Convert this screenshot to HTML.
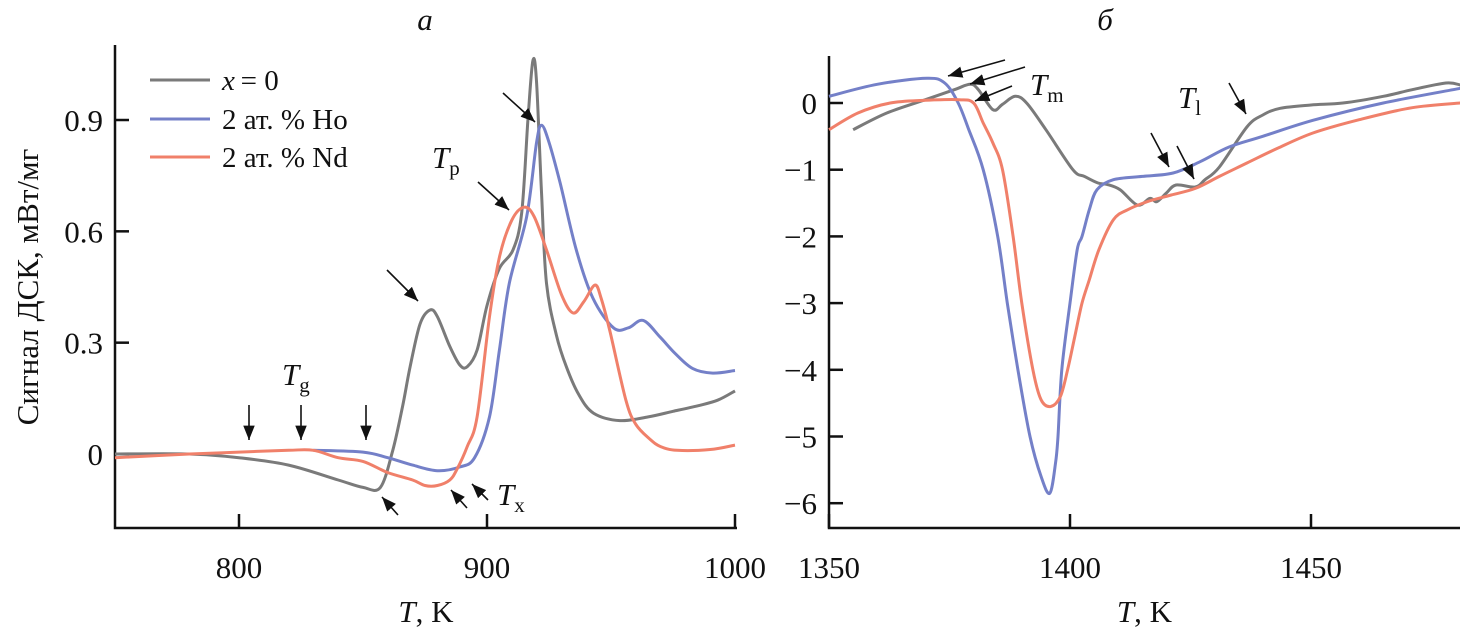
<!DOCTYPE html>
<html><head><meta charset="utf-8"><style>
body{margin:0;background:#fff}
text,tspan{font-family:"Liberation Serif","DejaVu Serif",serif !important;fill:#111}
</style></head><body>
<svg id="chart" width="1460" height="635" viewBox="0 0 1460 635" xmlns="http://www.w3.org/2000/svg" font-family="Liberation Serif, serif">
<defs><marker id="ah" viewBox="0 0 10 10" refX="10" refY="5" markerWidth="9" markerHeight="9" orient="auto"><path d="M0,1 L10,5 L0,9 z" fill="#111"/></marker></defs>
<g id="gA"></g>
<g id="gB"></g>
</svg>
<script>
// Panel a data
const aGrayT=[750,780,800,820,840,850,857,862,866,869,873,877,880,885,889,892,896,900,905,910.5,914,916.5,918.5,920,922,924,928,932,937,943,953.6,965,975,985,993,1000];
const aGrayV=[0,0,-0.01,-0.03,-0.07,-0.09,-0.09,0.01,0.13,0.235,0.35,0.388,0.37,0.29,0.24,0.235,0.28,0.4,0.5,0.55,0.65,0.9,1.06,1.0,0.7,0.46,0.32,0.235,0.16,0.11,0.09,0.1,0.115,0.13,0.145,0.17];
const aHoT=[830,850,860,870,880,889,895,901,905,909,916,920,922,925,929.5,936,942.7,951,957,963,969.8,976,983,991,1000];
const aHoV=[0.01,0.005,-0.01,-0.03,-0.045,-0.035,-0.01,0.1,0.28,0.46,0.64,0.84,0.886,0.84,0.73,0.55,0.42,0.34,0.34,0.36,0.315,0.27,0.23,0.218,0.225];
const aNdT=[750,780,800,820,830,840,850,860,870,875,880,885,888,892,896,901,905,910,915,919,924,930,934.7,939,943.5,946,949.6,956,960,965.7,970,976.6,990,1000];
const aNdV=[-0.01,0,0.005,0.01,0.01,-0.01,-0.02,-0.05,-0.07,-0.085,-0.085,-0.07,-0.04,0.02,0.1,0.37,0.53,0.63,0.665,0.64,0.55,0.43,0.38,0.41,0.455,0.42,0.33,0.145,0.08,0.04,0.02,0.01,0.012,0.024];
const aXTicks=[800,900,1000];
const aYTicks=[0,0.3,0.6,0.9];
const aYLabels=["0","0.3","0.6","0.9"];
// Panel b data
const bGrayT=[1355,1362,1370,1376,1379.3,1381,1384,1386,1388.6,1391,1395,1400.6,1403,1405.8,1407.7,1410.4,1414,1416.6,1418,1420,1422,1426,1428,1431,1436.7,1440,1443.6,1450,1456.6,1465,1471,1478,1481];
const bGrayV=[-0.4,-0.15,0.05,0.2,0.28,0.2,-0.1,-0.02,0.1,0.0,-0.4,-1.0,-1.1,-1.2,-1.22,-1.3,-1.53,-1.43,-1.48,-1.35,-1.23,-1.26,-1.15,-0.96,-0.36,-0.18,-0.08,-0.03,0,0.1,0.2,0.3,0.27];
const bHoT=[1350,1360,1370.3,1374,1376.8,1379,1382,1385,1387,1389.2,1391.7,1394,1395.8,1397,1397.5,1398.3,1400,1401.5,1402.5,1404,1405.6,1409,1415,1421.4,1427,1433,1440,1450.4,1465,1481];
const bHoV=[0.1,0.28,0.37,0.3,0.0,-0.4,-1.0,-2.0,-3.0,-4.0,-5.0,-5.6,-5.85,-5.4,-5.0,-4.0,-3.0,-2.2,-2.0,-1.6,-1.3,-1.15,-1.1,-1.05,-0.88,-0.66,-0.5,-0.26,0.0,0.22];
const bNdT=[1350,1356,1362.7,1370,1377,1380,1382,1384,1386,1388.2,1390,1392.3,1394,1396,1398,1399.5,1401,1402.5,1404,1406,1409,1412,1416,1421,1426,1431,1436.7,1443,1450.4,1460,1471,1481];
const bNdV=[-0.4,-0.15,0.0,0.04,0.05,0.0,-0.3,-0.6,-1.0,-2.0,-3.0,-4.0,-4.45,-4.55,-4.4,-4.0,-3.5,-3.0,-2.65,-2.2,-1.75,-1.6,-1.48,-1.38,-1.28,-1.1,-0.9,-0.68,-0.45,-0.25,-0.07,0];
const bXTicks=[1350,1400,1450];
const bYTicks=[0,-1,-2,-3,-4,-5,-6];
const bYLabels=["0","\u22121","\u22122","\u22123","\u22124","\u22125","\u22126"];

const NS="http://www.w3.org/2000/svg";
const GRAY="#7a7a7a",BLUE="#7480c8",RED="#f0806a";
function mk(p,tag,at,txt){const e=document.createElementNS(NS,tag);for(const k in at)e.setAttribute(k,at[k]);if(tag==='text')e.setAttribute('font-family','Liberation Serif, serif');if(txt!==undefined)e.textContent=txt;p.appendChild(e);return e;}
const ax={x:v=>115+(v-750)*2.48,y:v=>454-v*371.1};
const bx={x:v=>829+(v-1350)*4.82,y:v=>103-v*66.7};
function line(g,s,T,V,c,n){
 const P=T.map((t,i)=>[s.x(t),s.y(V[i])]);
 let d='M'+P[0][0].toFixed(1)+','+P[0][1].toFixed(1);
 for(let i=0;i<P.length-1;i++){const p0=P[Math.max(0,i-1)],p1=P[i],p2=P[i+1],p3=P[Math.min(P.length-1,i+2)];
  const c1=[p1[0]+(p2[0]-p0[0])/6,p1[1]+(p2[1]-p0[1])/6],c2=[p2[0]-(p3[0]-p1[0])/6,p2[1]-(p3[1]-p1[1])/6];
  d+=` C${c1[0].toFixed(1)},${c1[1].toFixed(1)} ${c2[0].toFixed(1)},${c2[1].toFixed(1)} ${p2[0].toFixed(1)},${p2[1].toFixed(1)}`;}
 const e=mk(g,'path',{d:d,fill:'none',stroke:c,'stroke-width':3,'stroke-linejoin':'round'});
 
 }
function axes(g,s,x0,x1,yTop,xT,yT,yL,pfx){
 let e=mk(g,'path',{d:`M${x0},${yTop} L${x0},528 L${x1},528`,fill:'none',stroke:'#111','stroke-width':2.5});
 
 
 xT.forEach(v=>{const x=s.x(v);mk(g,'line',{x1:x,x2:x,y1:528,y2:514,stroke:'#111','stroke-width':2.5});
  const t=mk(g,'text',{x:x,y:578,'font-size':31,'text-anchor':'middle'},v);
  
  });
 yT.forEach((v,i)=>{const y=s.y(v);mk(g,'line',{x1:x0,x2:x0+14,y1:y,y2:y,stroke:'#111','stroke-width':2.5});
  const t=mk(g,'text',{x:x0-12,y:y+11,'font-size':31,'text-anchor':'end'},yL[i]);
  
  });
 const xt=mk(g,'text',{x:(x0+x1)/2,y:622,'font-size':31,'text-anchor':'middle'});
 
 
 mk(xt,'tspan',{'font-style':'italic'},'T');mk(xt,'tspan',{},', K');
}
function arrow(g,x1,y1,x2,y2){const e=mk(g,'line',{x1,y1,x2,y2,stroke:'#111','stroke-width':1.6,'marker-end':'url(#ah)'});
 
 }
function lab(g,x,y,m,sub,n){const t=mk(g,'text',{x:x,y:y,'font-size':31});
 
 
 mk(t,'tspan',{'font-style':'italic'},m);mk(t,'tspan',{'font-size':21,dy:7},sub);}

const gA=document.getElementById('gA');
axes(gA,ax,115,737,45,aXTicks,aYTicks,aYLabels,'panel-a');
line(gA,ax,aGrayT,aGrayV,GRAY,'series-x0');
line(gA,ax,aHoT,aHoV,BLUE,'series-ho');
line(gA,ax,aNdT,aNdV,RED,'series-nd');
const ttlA=mk(gA,'text',{x:425,y:30,'font-size':31,'font-style':'italic','text-anchor':'middle'},'а');


const yl=mk(gA,'text',{x:0,y:0,'font-size':31,'text-anchor':'middle',transform:'translate(38,287) rotate(-90)'},'Сигнал ДСК, мВт/мг');


[[GRAY,80,'x','\u2009= 0'],[BLUE,119,'','2 ат. % Ho'],[RED,157,'','2 ат. % Nd']].forEach(l=>{
 const g=mk(gA,'g',{});
 
 
 mk(g,'line',{x1:150,x2:210,y1:l[1],y2:l[1],stroke:l[0],'stroke-width':3});
 const t=mk(g,'text',{x:222,y:l[1]+10,'font-size':29});
 if(l[2])mk(t,'tspan',{'font-style':'italic'},l[2]);
 mk(t,'tspan',{},l[3]);
});
[249,301,366].forEach(x=>arrow(gA,x,405,x,440));
arrow(gA,387,270,418,301);arrow(gA,503,93,535,122);arrow(gA,478,182,509,210);
arrow(gA,398,515,382,497);arrow(gA,467,508,451,490);arrow(gA,488,500,472,484);
lab(gA,282,385,'T','g','label-tg');lab(gA,432,168,'T','p','label-tp');lab(gA,497,505,'T','x','label-tx');

const gB=document.getElementById('gB');
axes(gB,bx,829,1460,56,bXTicks,bYTicks,bYLabels,'panel-b');
line(gB,bx,bGrayT,bGrayV,GRAY,'series-x0-b');
line(gB,bx,bHoT,bHoV,BLUE,'series-ho-b');
line(gB,bx,bNdT,bNdV,RED,'series-nd-b');
const ttlB=mk(gB,'text',{x:1105,y:30,'font-size':31,'font-style':'italic','text-anchor':'middle'},'б');


arrow(gB,1005,60,948,76);arrow(gB,1025,67,970,84);arrow(gB,1012,86,975,101);
arrow(gB,1151,133,1169,167);arrow(gB,1177,146,1194,179);arrow(gB,1229,83,1246,114);
lab(gB,1030,95,'T','m','label-tm');lab(gB,1178,108,'T','l','label-tl');
</script>
</body></html>
